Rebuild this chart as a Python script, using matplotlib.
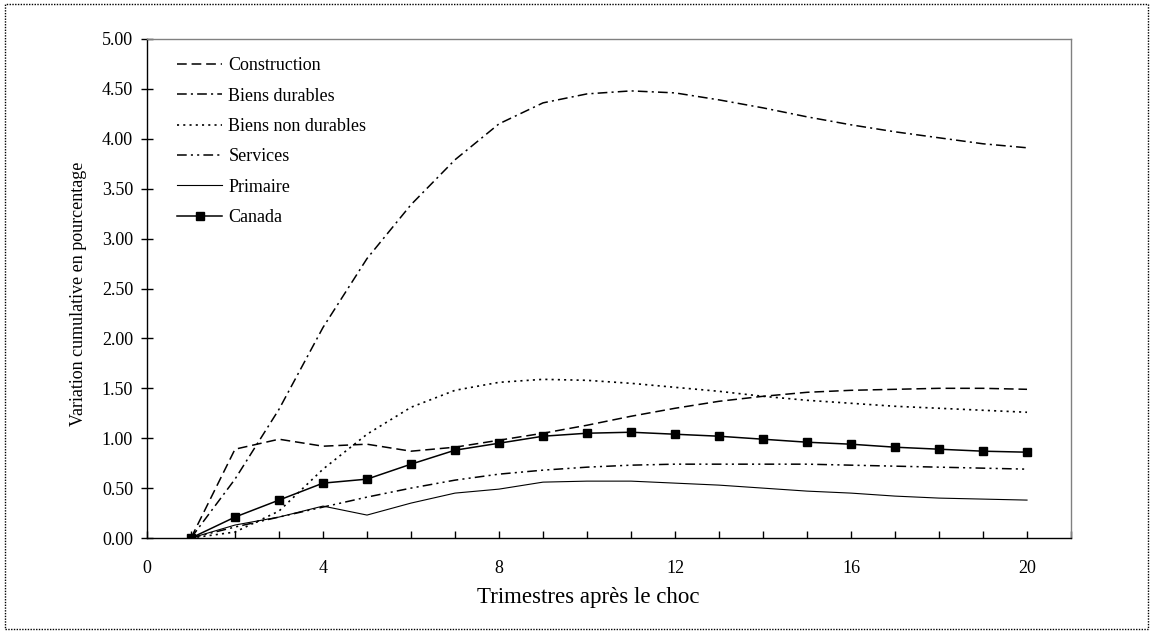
import numpy as np
import matplotlib.pyplot as plt
from matplotlib.patches import Rectangle

plt.rcParams['font.family'] = ['Liberation Serif', 'DejaVu Serif']
plt.rcParams['lines.scale_dashes'] = False

# quarters after the shock
trimestres = np.arange(1, 21)

construction = [0.00, 0.89, 0.99, 0.92, 0.94, 0.87, 0.91, 0.98, 1.05, 1.13,
                1.22, 1.30, 1.37, 1.42, 1.46, 1.48, 1.49, 1.50, 1.50, 1.49]
biens_durables = [0.00, 0.59, 1.29, 2.11, 2.80, 3.34, 3.79, 4.15, 4.36, 4.45,
                  4.48, 4.46, 4.39, 4.31, 4.22, 4.14, 4.07, 4.01, 3.95, 3.91]
biens_non_durables = [0.00, 0.06, 0.27, 0.69, 1.04, 1.31, 1.48, 1.56, 1.59, 1.58,
                      1.55, 1.51, 1.47, 1.42, 1.38, 1.35, 1.32, 1.30, 1.28, 1.26]
services = [0.00, 0.11, 0.21, 0.31, 0.41, 0.50, 0.58, 0.64, 0.68, 0.71,
            0.73, 0.74, 0.74, 0.74, 0.74, 0.73, 0.72, 0.71, 0.70, 0.69]
primaire = [0.00, 0.13, 0.21, 0.32, 0.23, 0.35, 0.45, 0.49, 0.56, 0.57,
            0.57, 0.55, 0.53, 0.50, 0.47, 0.45, 0.42, 0.40, 0.39, 0.38]
canada = [0.00, 0.21, 0.38, 0.55, 0.59, 0.74, 0.88, 0.95, 1.02, 1.05,
          1.06, 1.04, 1.02, 0.99, 0.96, 0.94, 0.91, 0.89, 0.87, 0.86]

fig = plt.figure(figsize=(11.53, 6.32), dpi=100)
ax = fig.add_axes([0.1275, 0.1487, 0.8014, 0.7896])

ax.plot(trimestres, construction, color='black', lw=1.1, dashes=(7, 3.5), label='Construction')
ax.plot(trimestres, biens_durables, color='black', lw=1.1, dashes=(7, 3, 1.5, 3), label='Biens durables')
ax.plot(trimestres, biens_non_durables, color='black', lw=1.2, dashes=(1.5, 3), label='Biens non durables')
ax.plot(trimestres, services, color='black', lw=1.1, dashes=(7, 3, 1.5, 3, 1.5, 3), label='Services')
ax.plot(trimestres, primaire, color='black', lw=0.8, label='Primaire')
ax.plot(trimestres, canada, color='black', lw=1.1, marker='s', markersize=5.5, label='Canada')

ax.set_xlim(0, 21)
ax.set_ylim(0, 5)
ax.set_xticks(np.arange(0, 21, 4))
ax.set_xticks(np.arange(0, 22, 1), minor=True)
ax.set_yticks(np.arange(0, 5.01, 0.5))
ax.yaxis.set_major_formatter(plt.FuncFormatter(lambda v, p: f'{v:.2f}'))

ax.tick_params(axis='x', which='both', direction='in', length=5, width=1, labelsize=13, pad=16)
ax.tick_params(axis='y', direction='inout', length=8, width=1, labelsize=13, pad=6)

for side in ['top', 'right']:
    ax.spines[side].set_color('#808080')
for side in ['left', 'bottom']:
    ax.spines[side].set_color('black')
for s in ax.spines.values():
    s.set_linewidth(1.0)

ax.set_ylabel('Variation cumulative en pourcentage', fontsize=13)
ax.yaxis.set_label_coords(-0.065, 0.49)
fig.text(0.51, 0.055, 'Trimestres après le choc', fontsize=16.5, ha='center', va='center')

ax.legend(loc='upper left', frameon=False, fontsize=13, handlelength=2.5,
          handletextpad=0.33, labelspacing=0.74, bbox_to_anchor=(0.025, 0.978),
          borderaxespad=0.0)

# dotted border around the whole figure
fig.patches.append(Rectangle((0.004, 0.004), 0.992, 0.99, transform=fig.transFigure,
                             fill=False, lw=1.0, ls=(0, (1, 1)), color='black'))

fig.savefig('out.png', dpi=100)
